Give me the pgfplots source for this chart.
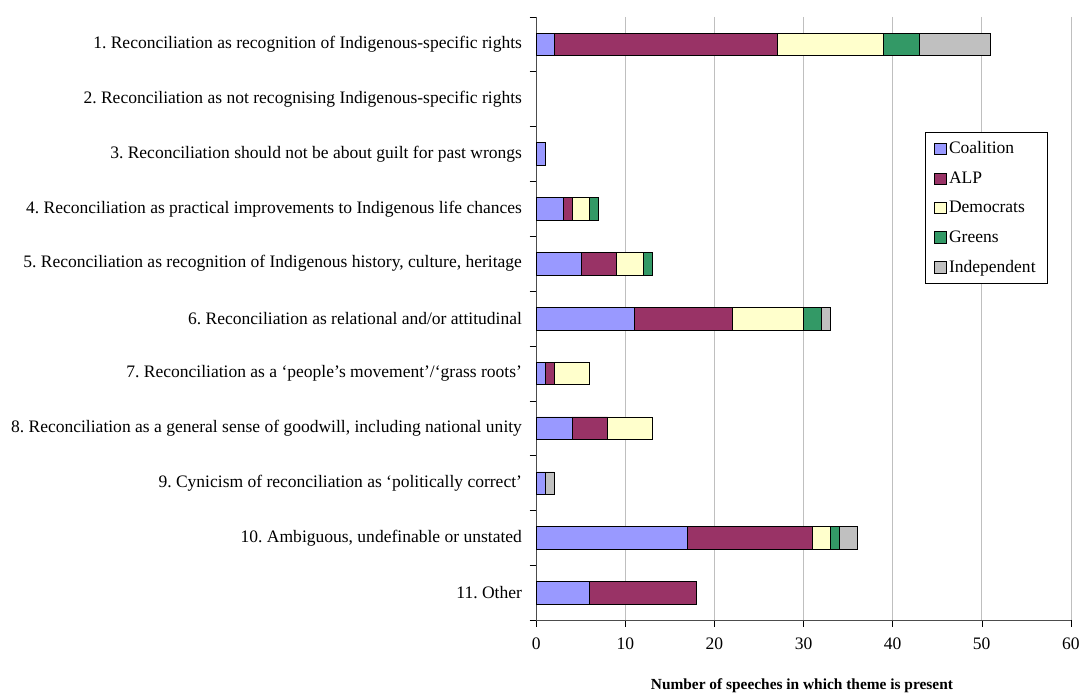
\documentclass[border=0pt]{standalone}
\usepackage{pgfplots}
\pgfplotsset{compat=1.18}
\usepackage{fontspec}
\setmainfont{Liberation Serif}
\definecolor{coal}{HTML}{9999FF}
\definecolor{alp}{HTML}{993366}
\definecolor{dem}{HTML}{FFFFCC}
\definecolor{grn}{HTML}{339966}
\definecolor{ind}{HTML}{C0C0C0}
\begin{document}
\frenchspacing
\begin{tikzpicture}
\begin{axis}[
  name=main,
  scale only axis, width=402.75pt, height=454.5pt,
  xbar stacked, bar width=17pt,
  xmin=0, xmax=60, ymin=0.5, ymax=11.5, y dir=reverse,
  xtick={0,10,...,60},
  ytick={1,...,11}, major y tick style={draw=none},
  yticklabels={
    1. Reconciliation as recognition of Indigenous-specific rights,
    2. Reconciliation as not recognising Indigenous-specific rights,
    3. Reconciliation should not be about guilt for past wrongs,
    4. Reconciliation as practical improvements to Indigenous life chances,
    {5. Reconciliation as recognition of Indigenous history, culture, heritage},
    6. Reconciliation as relational and/or attitudinal,
    7. Reconciliation as a ‘people’s movement’/‘grass roots’,
    {8. Reconciliation as a general sense of goodwill, including national unity},
    9. Cynicism of reconciliation as ‘politically correct’,
    {10. Ambiguous, undefinable or unstated},
    11. Other},
  minor ytick={0.5,1.5,...,11.5},
  minor y tick style={black, thin},
  minor tick length=5pt,
  major tick length=5pt,
  tick align=outside,
  xtick pos=bottom, ytick pos=left,
  axis x line*=bottom, axis y line*=left,
  axis line style={black!70, thin},
  x tick style={black},
  xmajorgrids, major grid style={black!25, thin},
  tick label style={font=\fontsize{13.2}{15}\selectfont},
  /pgf/number format/assume math mode=true,
  yticklabel style={xshift=-2.25pt},
  xticklabel style={yshift=-5pt},
  xlabel={\textbf{Number of speeches in which theme is present}},
  xlabel style={font=\fontsize{11.6}{13}\selectfont, at={(axis description cs:0.497,0)}, anchor=base, yshift=-52pt},
  legend style={at={(0.957,0.809)}, anchor=north east, draw=black, thin,
    font=\fontsize{13.2}{15}\selectfont, row sep=8pt,
    inner xsep=7pt, inner ysep=5pt, legend cell align=left},
  legend image code/.code={\draw[#1, draw=black, thin] (0pt,-4.3pt) rectangle (8.6pt,4.3pt);},
  every axis plot/.append style={draw=black, thin},
]
\addplot[fill=coal] coordinates {(2,1) (0,2) (1,3) (3,4) (5,5) (11,6) (1,7) (4,8) (1,9) (17,10) (6,11)};
\addplot[fill=alp] coordinates {(25,1) (0,2) (0,3) (1,4) (4,5) (11,6) (1,7) (4,8) (0,9) (14,10) (12,11)};
\addplot[fill=dem] coordinates {(12,1) (0,2) (0,3) (2,4) (3,5) (8,6) (4,7) (5,8) (0,9) (2,10) (0,11)};
\addplot[fill=grn] coordinates {(4,1) (0,2) (0,3) (1,4) (1,5) (2,6) (0,7) (0,8) (0,9) (1,10) (0,11)};
\addplot[fill=ind] coordinates {(8,1) (0,2) (0,3) (0,4) (0,5) (1,6) (0,7) (0,8) (1,9) (2,10) (0,11)};
\legend{Coalition, ALP, Democrats, Greens, Independent}
\end{axis}
\path (main.north west) ++(0,12.75pt) coordinate (bbtop);
\path (current bounding box.south west) ++(-5pt,0) coordinate (bbsw);
\useasboundingbox (bbsw) rectangle (current bounding box.north east |- bbtop);
\end{tikzpicture}
\end{document}
